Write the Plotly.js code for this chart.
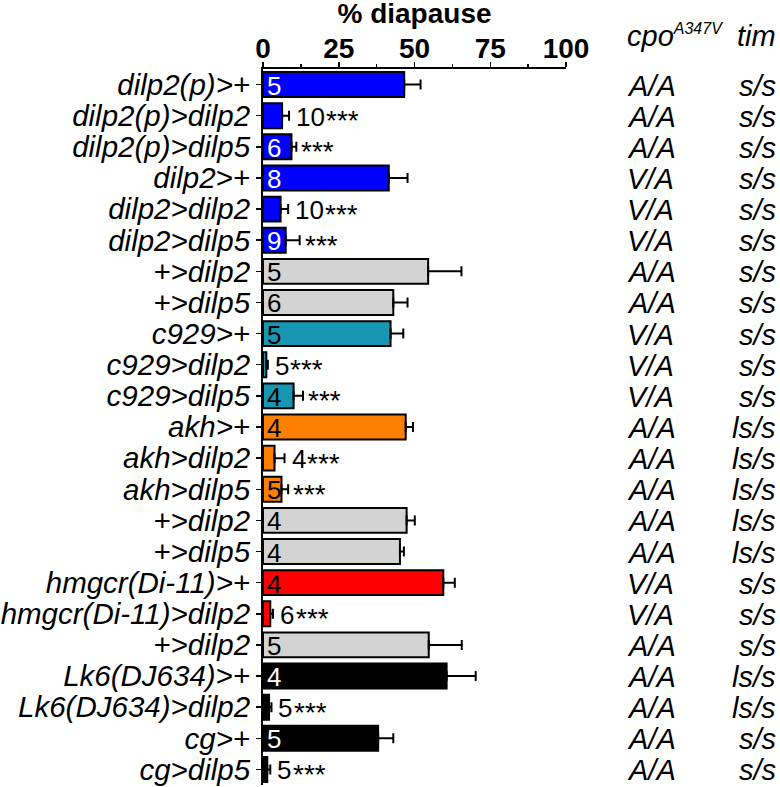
<!DOCTYPE html>
<html>
<head>
<meta charset="utf-8">
<script src="https://cdn.plot.ly/plotly-3.0.1.min.js"></script>
<style>html,body{margin:0;padding:0;background:#fff;}#chart{width:780px;height:787px;}</style>
</head>
<body>
<div id="chart"></div>
<script>
// ---- data ----
var genotypes = ["dilp2(p)>+", "dilp2(p)>dilp2", "dilp2(p)>dilp5", "dilp2>+", "dilp2>dilp2", "dilp2>dilp5",
  "+>dilp2", "+>dilp5", "c929>+", "c929>dilp2", "c929>dilp5", "akh>+", "akh>dilp2", "akh>dilp5",
  "+>dilp2", "+>dilp5", "hmgcr(Di-11)>+", "hmgcr(Di-11)>dilp2", "+>dilp2", "Lk6(DJ634)>+",
  "Lk6(DJ634)>dilp2", "cg>+", "cg>dilp5"];
var diapause = [46.6, 6.3, 9.4, 41.5, 5.8, 7.5, 54.5, 43.0, 42.1, 1.1, 10.1, 47.1, 3.8, 6.1,
  47.4, 45.2, 59.5, 2.4, 54.7, 60.6, 2.0, 38.0, 1.4];
var sem = [5.4, 2.3, 1.6, 6.2, 2.5, 4.6, 11.0, 4.7, 4.2, 0.5, 3.1, 2.4, 3.3, 2.2,
  2.7, 1.3, 3.8, 0.9, 10.9, 9.6, 0.8, 5.0, 1.0];
var nCount = [5, 10, 6, 8, 10, 9, 5, 6, 5, 5, 4, 4, 4, 5, 4, 4, 4, 6, 5, 4, 5, 5, 5];
var nInside = [true, false, true, true, false, true, true, true, true, false, true, true, false, true,
  true, true, true, false, true, true, false, true, false];
var signif = ["", "***", "***", "", "***", "***", "", "", "", "***", "***", "", "***", "***",
  "", "", "", "***", "", "", "***", "", "***"];
var barColors = ["#0000FF", "#0000FF", "#0000FF", "#0000FF", "#0000FF", "#0000FF",
  "#D3D3D3", "#D3D3D3", "#1797B2", "#1797B2", "#1797B2", "#FF8000", "#FF8000", "#FF8000",
  "#D3D3D3", "#D3D3D3", "#FF0000", "#FF0000", "#D3D3D3", "#000000", "#000000", "#000000", "#000000"];
var nColors = ["#FFFFFF", "#FFFFFF", "#FFFFFF", "#FFFFFF", "#FFFFFF", "#FFFFFF",
  "#000000", "#000000", "#000000", "#000000", "#000000", "#000000", "#000000", "#000000",
  "#000000", "#000000", "#000000", "#000000", "#000000", "#FFFFFF", "#FFFFFF", "#FFFFFF", "#FFFFFF"];
var cpo = ["A/A", "A/A", "A/A", "V/A", "V/A", "V/A", "A/A", "A/A", "V/A", "V/A", "V/A", "A/A", "A/A", "A/A",
  "A/A", "A/A", "V/A", "V/A", "A/A", "A/A", "A/A", "A/A", "A/A"];
var tim = ["s/s", "s/s", "s/s", "s/s", "s/s", "s/s", "s/s", "s/s", "s/s", "s/s", "s/s", "ls/s", "ls/s", "ls/s",
  "ls/s", "ls/s", "s/s", "s/s", "s/s", "ls/s", "ls/s", "s/s", "s/s"];
var xTicks = [0, 25, 50, 75, 100];

// ---- build ----
var FONT = "Liberation Sans, Arial, sans-serif";
var rows = genotypes.map(function (_, i) { return i; });
var zeros = diapause.map(function () { return 0; });

var trace = {
  type: "bar", orientation: "h",
  x: diapause, y: rows, width: 0.8,
  marker: { color: barColors, line: { color: "#000", width: 2 } },
  error_x: { type: "data", symmetric: false, array: sem, arrayminus: zeros,
    color: "#000", thickness: 2, width: 5 },
  cliponaxis: false, hoverinfo: "skip"
};

var ann = [];
rows.forEach(function (i) {
  var tip = diapause[i] + sem[i];
  var starShift = 5;
  if (nInside[i]) {
    ann.push({ xref: "x", yref: "y", x: 0, y: i, xanchor: "left", yanchor: "middle",
      xshift: 2, yshift: -1, showarrow: false, text: String(nCount[i]),
      font: { family: FONT, size: 26, color: nColors[i] } });
  } else {
    ann.push({ xref: "x", yref: "y", x: tip, y: i, xanchor: "left", yanchor: "middle",
      xshift: 5, yshift: -1, showarrow: false, text: String(nCount[i]),
      font: { family: FONT, size: 26, color: "#000" } });
    starShift = 5 + String(nCount[i]).length * 14.5 + 3;
  }
  if (signif[i]) {
    ann.push({ xref: "x", yref: "y", x: tip, y: i, xanchor: "left", yanchor: "middle",
      xshift: starShift - 2, yshift: -5, showarrow: false, text: signif[i],
      font: { family: FONT, size: 28, color: "#000" } });
  }
  ann.push({ xref: "paper", yref: "y", x: 1.2, y: i, xanchor: "left", yanchor: "middle",
    showarrow: false, text: cpo[i], xshift: -2, yshift: -1,
    font: { family: FONT, size: 29, style: "italic", color: "#000" } });
  ann.push({ xref: "paper", yref: "y", x: 1.7, y: i, xanchor: "right", yanchor: "middle",
    showarrow: false, text: tim[i], xshift: 0, yshift: -1,
    font: { family: FONT, size: 29, style: "italic", color: "#000" } });
});
ann.push({ xref: "paper", yref: "paper", x: 1.2, y: 1.046, xanchor: "left", yanchor: "middle",
  showarrow: false, text: "cpo<sup><span style=\"font-size:16px\">A347V</span></sup>", xshift: -2,
  font: { family: FONT, size: 29, style: "italic", color: "#000" } });
ann.push({ xref: "paper", yref: "paper", x: 1.7, y: 1.046, xanchor: "right", yanchor: "middle",
  showarrow: false, text: "tim",
  font: { family: FONT, size: 29, style: "italic", color: "#000" } });

var layout = {
  width: 780, height: 787,
  margin: { l: 263, r: 214, t: 69, b: 2, pad: 0 },
  paper_bgcolor: "#fff", plot_bgcolor: "#fff",
  showlegend: false,
  title: { text: "% diapause", x: 0.5, xref: "paper", xanchor: "center",
    y: 1, yref: "container", yanchor: "top", pad: { t: 3 },
    font: { family: FONT, size: 28, weight: "bold", color: "#000" } },
  xaxis: { side: "top", range: [0, 100], tickvals: xTicks, ticktext: xTicks.map(String),
    ticks: "outside", ticklen: 5, tickwidth: 1.5, tickcolor: "#000", ticklabelstandoff: -7,
    minor: { tickvals: [12.5, 37.5, 62.5, 87.5], ticks: "outside", ticklen: 3, tickwidth: 1.5, tickcolor: "#000" },
    showline: true, linecolor: "#000", linewidth: 2, showgrid: false, zeroline: false,
    tickfont: { family: FONT, size: 28, weight: "bold", color: "#000" }, fixedrange: true },
  yaxis: { range: [22.5, -0.5], tickvals: rows, ticktext: genotypes,
    ticks: "outside", ticklen: 5, tickwidth: 1.5, tickcolor: "#000",
    showline: true, linecolor: "#000", linewidth: 2, showgrid: false, zeroline: false,
    tickfont: { family: FONT, size: 29.5, style: "italic", color: "#000" }, fixedrange: true },
  annotations: ann
};

Plotly.newPlot("chart", [trace], layout, { displayModeBar: false, staticPlot: true });
</script>
</body>
</html>
